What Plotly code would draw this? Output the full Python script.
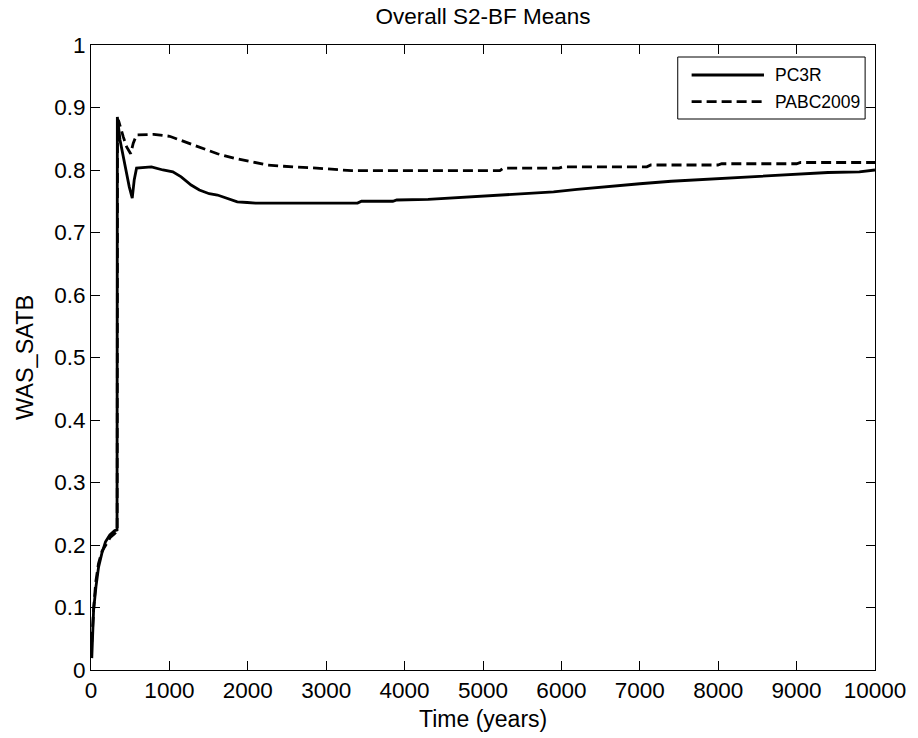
import plotly.graph_objects as go

title_text = "Overall S2-BF Means"
x_label = "Time (years)"
y_label = "WAS_SATB"
series_names = ["PC3R", "PABC2009"]

pc3r_x = [10, 20, 33, 63, 97, 139, 185, 240, 303, 332, 336, 370, 434, 488, 526, 551, 581, 771, 918, 1044, 1150,
          1277, 1382, 1508, 1613, 1740, 1866, 1992, 2099, 3400, 3450, 3850, 3900, 4300, 4700, 5100, 5500, 5900,
          6200, 6600, 7000, 7400, 7800, 8200, 8600, 9000, 9400, 9800, 10000]
pc3r_y = [0.019, 0.059, 0.096, 0.133, 0.165, 0.187, 0.205, 0.216, 0.223, 0.224, 0.885, 0.848, 0.805, 0.773, 0.755,
          0.784, 0.803, 0.805, 0.800, 0.797, 0.789, 0.776, 0.768, 0.762, 0.760, 0.755, 0.749, 0.748, 0.747, 0.747,
          0.750, 0.750, 0.752, 0.753, 0.756, 0.759, 0.762, 0.765, 0.769, 0.774, 0.778, 0.782, 0.785, 0.788, 0.790,
          0.793, 0.796, 0.797, 0.800]

pabc_x = [10, 20, 35, 60, 95, 140, 190, 245, 300, 334, 338, 349, 412, 455, 506, 539, 581, 800, 1003, 1192, 1403,
          1613, 1824, 2035, 2245, 2456, 2667, 2877, 3320, 5215, 5260, 5970, 6020, 7090, 7140, 7995, 8045, 9000,
          9050, 10000]
pabc_y = [0.045, 0.07, 0.10, 0.14, 0.17, 0.19, 0.20, 0.212, 0.218, 0.222, 0.86, 0.880, 0.853, 0.837, 0.826, 0.843,
          0.856, 0.857, 0.854, 0.845, 0.835, 0.826, 0.819, 0.813, 0.808, 0.806, 0.805, 0.803, 0.799, 0.799, 0.803,
          0.803, 0.805, 0.805, 0.808, 0.808, 0.810, 0.810, 0.812, 0.812]

x_ticks = list(range(0, 10001, 1000))
y_ticks = [0, 0.1, 0.2, 0.3, 0.4, 0.5, 0.6, 0.7, 0.8, 0.9, 1]
y_tick_text = ["0", "0.1", "0.2", "0.3", "0.4", "0.5", "0.6", "0.7", "0.8", "0.9", "1"]

FONT = "Liberation Sans, Arial, sans-serif"
TICK_SIZE = 22.5
LABEL_SIZE = 23
LW = 2.8
DASH = "10px,5px"

fig = go.Figure()
fig.add_trace(go.Scatter(x=pc3r_x, y=pc3r_y, mode="lines", name=series_names[0],
                         line=dict(color="black", width=LW), showlegend=False))
fig.add_trace(go.Scatter(x=pabc_x, y=pabc_y, mode="lines", name=series_names[1],
                         line=dict(color="black", width=LW, dash=DASH), showlegend=False))

axis_common = dict(showgrid=False, zeroline=False, showline=True, linecolor="black", linewidth=1,
                   mirror="ticks", ticks="inside", ticklen=9, tickwidth=1, tickcolor="black",
                   tickfont=dict(family=FONT, size=TICK_SIZE, color="black"))

fig.update_xaxes(range=[0, 10000], tickvals=x_ticks, ticktext=[str(v) for v in x_ticks], **axis_common)
fig.update_yaxes(range=[0, 1], tickvals=y_ticks, ticktext=y_tick_text, **axis_common)

# manual legend (MATLAB style)
lx0, lx1, ly0, ly1 = 0.7484, 0.9874, 0.8816, 0.9808
fig.add_shape(type="rect", xref="paper", yref="paper", x0=lx0, x1=lx1, y0=ly0, y1=ly1,
              line=dict(color="black", width=1), fillcolor="white", layer="above")
leg_rows = [0.952, 0.9093]
leg_dash = ["solid", DASH]
for name, yy, dsh in zip(series_names, leg_rows, leg_dash):
    fig.add_shape(type="line", xref="paper", yref="paper", x0=0.7661, x1=0.8584, y0=yy, y1=yy,
                  line=dict(color="black", width=LW, dash=dsh), layer="above")
    fig.add_annotation(text=name, xref="paper", yref="paper", x=0.8698, y=yy, xanchor="left",
                       yanchor="middle", showarrow=False, font=dict(family=FONT, size=17.5, color="black"))

fig.add_annotation(text=x_label, xref="paper", yref="paper", x=0.5, y=-0.078, xanchor="center",
                   yanchor="middle", showarrow=False, font=dict(family=FONT, size=LABEL_SIZE, color="black"))
fig.add_annotation(text=y_label, xref="paper", yref="paper", x=-0.0847, y=0.5, xanchor="center",
                   yanchor="middle", textangle=-90, showarrow=False,
                   font=dict(family=FONT, size=23.5, color="black"))

fig.update_layout(
    width=918, height=738,
    margin=dict(l=91, r=36, t=45, b=68),
    paper_bgcolor="white", plot_bgcolor="white",
    title=dict(text=title_text, x=0.5, xref="paper", y=1 - 16 / 738, yref="container",
               xanchor="center", yanchor="middle", font=dict(family=FONT, size=TICK_SIZE, color="black")),
    showlegend=False,
)

fig.write_html("out.html", config={"displayModeBar": False},
               post_script="document.body.style.margin='0';document.body.style.overflow='hidden';")
